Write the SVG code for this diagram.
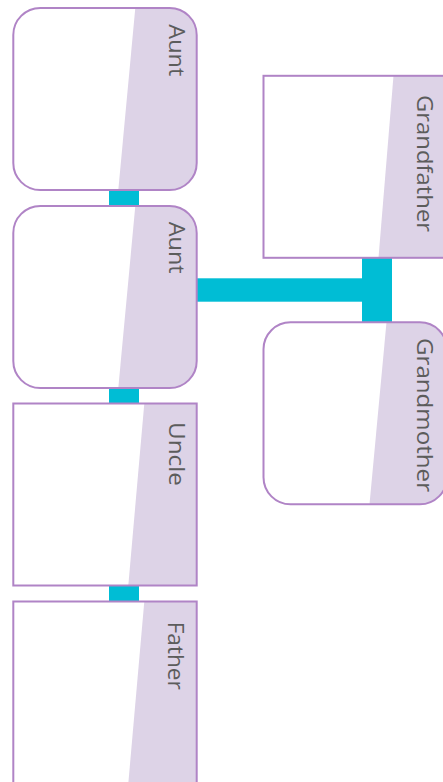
<svg xmlns="http://www.w3.org/2000/svg" width="443" height="782" viewBox="0 0 443 782">
<style>
.box{fill:#ffffff;stroke:none}
.shade{fill:#ddd3e7}
.outline{fill:none;stroke:#b084c6;stroke-width:2}
.lbl{font-family:"Open Sans","Noto Sans",sans-serif;font-size:22px;fill:#5c5c5c}
.conn{fill:#00bdd5}
</style>
<defs>
<clipPath id="cr"><rect x="0" y="0" width="183.4" height="182" rx="27" ry="27"/></clipPath>
<clipPath id="cs"><rect x="0" y="0" width="183.4" height="182"/></clipPath>
</defs>
<g id="connectors">
<rect class="conn" x="109" y="189" width="30" height="18"/>
<rect class="conn" x="109" y="387" width="30" height="17"/>
<rect class="conn" x="109" y="585" width="30" height="17"/>
<rect class="conn" x="196" y="278.3" width="170" height="23.4"/>
<rect class="conn" x="362" y="257" width="30" height="66"/>
</g>
<g id="aunt1" transform="translate(13.3,8)">
<rect class="box" width="183.4" height="182" rx="27"/>
<polygon class="shade" clip-path="url(#cr)" points="122,0 184,0 184,182 105,182"/>
<rect class="outline" width="183.4" height="182" rx="27"/>
<text class="lbl" transform="translate(155.5,16.3) rotate(90)" textLength="52" lengthAdjust="spacingAndGlyphs">Aunt</text>
</g>
<g id="aunt2" transform="translate(13.3,206)">
<rect class="box" width="183.4" height="182" rx="27"/>
<polygon class="shade" clip-path="url(#cr)" points="122,0 184,0 184,182 105,182"/>
<rect class="outline" width="183.4" height="182" rx="27"/>
<text class="lbl" transform="translate(155.5,15.7) rotate(90)" textLength="52" lengthAdjust="spacingAndGlyphs">Aunt</text>
</g>
<g id="uncle" transform="translate(13.3,403.5)">
<rect class="box" width="183.4" height="182"/>
<polygon class="shade" clip-path="url(#cs)" points="131,0 184,0 184,182 115,182"/>
<rect class="outline" width="183.4" height="182"/>
<text class="lbl" transform="translate(155.5,18.5) rotate(90)" textLength="64" lengthAdjust="spacingAndGlyphs">Uncle</text>
</g>
<g id="father" transform="translate(13.3,601.5)">
<rect class="box" width="183.4" height="182"/>
<polygon class="shade" clip-path="url(#cs)" points="131,0 184,0 184,182 115,182"/>
<rect class="outline" width="183.4" height="182"/>
<text class="lbl" transform="translate(155,20.2) rotate(90)" textLength="68" lengthAdjust="spacingAndGlyphs">Father</text>
</g>
<g id="grandfather" transform="translate(263.5,75.8)">
<rect class="box" width="183.4" height="182"/>
<polygon class="shade" clip-path="url(#cs)" points="130,0 184,0 184,182 115,182"/>
<rect class="outline" width="183.4" height="182"/>
<text class="lbl" transform="translate(153,19.2) rotate(90)" textLength="137" lengthAdjust="spacingAndGlyphs">Grandfather</text>
</g>
<g id="grandmother" transform="translate(263.5,322.3)">
<rect class="box" width="183.4" height="182" rx="27"/>
<polygon class="shade" clip-path="url(#cr)" points="123,0 184,0 184,182 106,182"/>
<rect class="outline" width="183.4" height="182" rx="27"/>
<text class="lbl" transform="translate(153,15.7) rotate(90)" textLength="154" lengthAdjust="spacingAndGlyphs">Grandmother</text>
</g>
</svg>
